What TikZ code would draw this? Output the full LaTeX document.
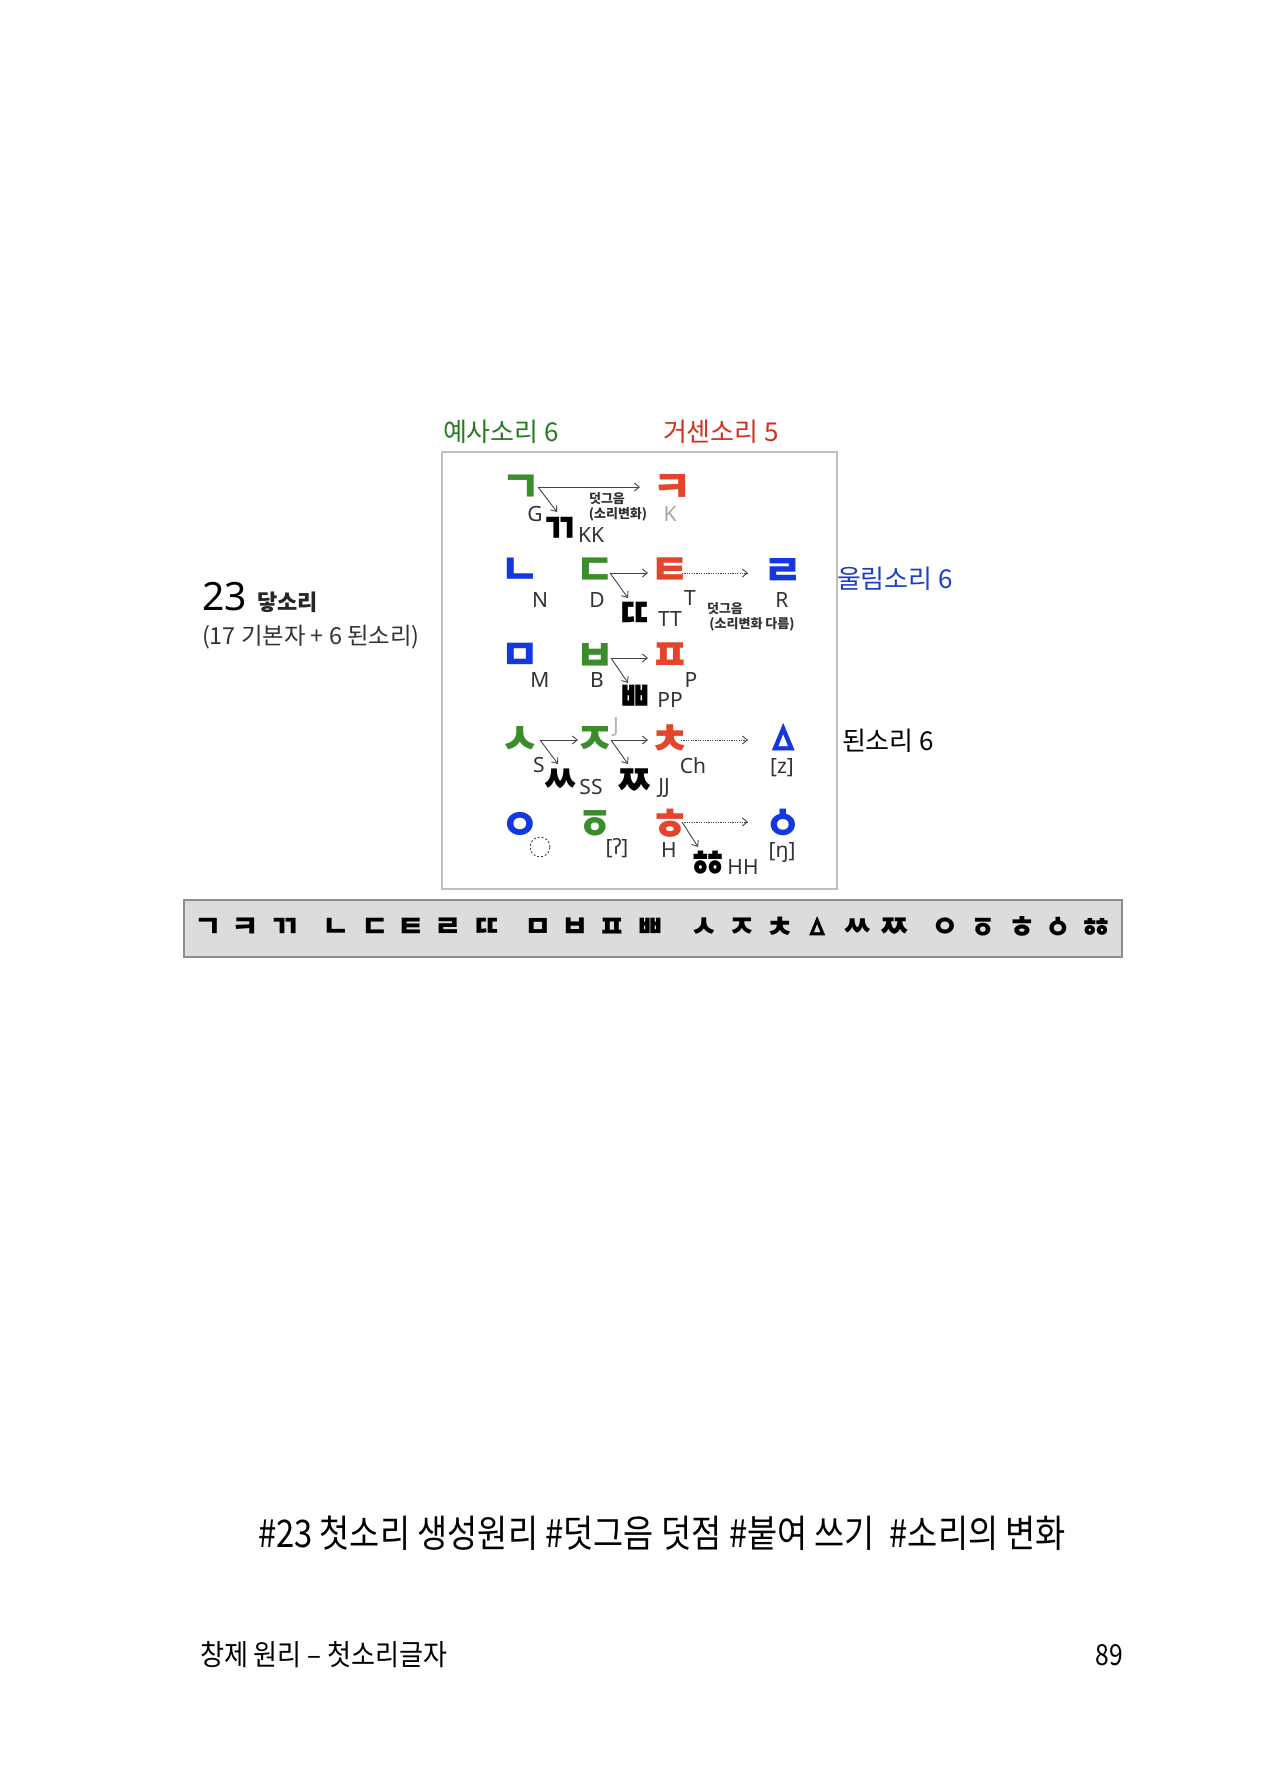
\documentclass[tikz,border=0pt]{standalone}
\usepackage{fontspec}
\setmainfont{Noto Sans}
\newfontfamily\kr{Noto Sans CJK KR}
\newfontfamily\krfb{Noto Sans CJK KR}[FakeBold=2]
\newfontfamily\lat{Noto Sans}
\usetikzlibrary{arrows.meta}
\definecolor{jgreen}{HTML}{3B8C2A}
\definecolor{jred}{HTML}{E2452B}
\definecolor{jblue}{HTML}{1438E0}
\definecolor{lgreen}{HTML}{2A7A22}
\definecolor{lred}{HTML}{D0321F}
\definecolor{lblue}{HTML}{1C3FC4}
\definecolor{txtgray}{HTML}{333333}
\definecolor{arrgray}{HTML}{444444}
\definecolor{barfill}{HTML}{DCDCDC}
\begin{document}
\begin{tikzpicture}[x=0.5pt,y=-0.5pt,
  every node/.style={inner sep=0pt, outer sep=0pt},
  jm/.style={font=\kr\bfseries\fontsize{21.5}{21.5}\selectfont},
  dbl/.style={font=\kr\bfseries\fontsize{20.5}{20.5}\selectfont, xscale=0.88, text=black},
  tri/.style={font=\krfb\fontsize{23}{23}\selectfont},
  bj/.style={font=\kr\bfseries\fontsize{15}{15}\selectfont},
  btri/.style={font=\krfb\fontsize{16}{16}\selectfont},
  lb/.style={font=\lat\fontsize{10.5}{10.5}\selectfont, text=txtgray},
  note/.style={font=\kr\bfseries\fontsize{6.5}{7}\selectfont, text=txtgray},
  hdr/.style={font=\kr\fontsize{13}{13}\selectfont, anchor=west},
  arr/.style={draw=arrgray, line width=0.45pt, -{Straight Barb[length=2.5pt,width=4pt]}},
  darr/.style={arr, dash pattern=on 0.6pt off 0.6pt}
]
\useasboundingbox (0,0) rectangle (1280,1791);

% frame and headers
\draw[draw=black!25, line width=0.8pt] (442,452) rectangle (837,889);
\node[hdr, text=lgreen] (hA) at (443,432) {예사소리 6};
\node[hdr, text=lred] (hB) at (663,432) {거센소리 5};
\node[hdr, text=lblue] (hC) at (837,579) {울림소리 6};
\node[hdr, text=black] (hD) at (842,741) {된소리 6};

% left legend
\node[anchor=base west, font=\lat\fontsize{19.5}{20}\selectfont, text=black] (n23) at (202,610) {23};
\node[anchor=base west, font=\kr\bfseries\fontsize{11}{11}\selectfont, text=black!85] (dk) at (257,610) {닿소리};
\node[anchor=west, font=\kr\fontsize{11.7}{12}\selectfont, text=txtgray] (sub) at (202,637) {(17 기본자 + 6 된소리)};

% row 1
\node[jm, text=jgreen] (g1) at (521,489) {ㄱ};
\node[jm, text=jred] (k1) at (672,489) {ㅋ};
\node[dbl] (gg1) at (560,530) {ㄲ};
\node[lb] (lG) at (535,514) {G};
\node[lb] (lKK) at (591,535) {KK};
\node[lb, text=black!35] (lK) at (670,514) {K};
\node[note] (n1a) at (607,499) {덧그음};
\node[note] (n1b) at (618,514) {(소리변화)};
\coordinate (s1) at (538,487);
\coordinate (e1a) at (640,487);
\coordinate (e1b) at (557,512);
\draw[arr] (s1) -- (e1a);
\draw[arr] (s1) -- (e1b);

% row 2
\node[jm, text=jblue] (n2) at (520,572) {ㄴ};
\node[jm, text=jgreen] (d2) at (595,572) {ㄷ};
\node[jm, text=jred] (t2) at (670,572) {ㅌ};
\node[jm, text=jblue] (r2) at (783,572) {ㄹ};
\node[dbl] (dd2) at (635,615) {ㄸ};
\node[lb] (lN) at (540,600) {N};
\node[lb] (lD) at (597,600) {D};
\node[lb] (lTT) at (670,619) {TT};
\node[lb] (lT) at (690,598) {T};
\node[lb] (lR) at (782,600) {R};
\node[note] (n2a) at (725,609) {덧그음};
\node[note] (n2b) at (752,624) {(소리변화 다름)};
\coordinate (s2) at (610,573);
\coordinate (e2a) at (648,573);
\coordinate (e2b) at (628,598);
\coordinate (s2d) at (682,573);
\coordinate (e2d) at (748,573);
\draw[arr] (s2) -- (e2a);
\draw[arr] (s2) -- (e2b);
\draw[darr] (s2d) -- (e2d);

% row 3
\node[jm, text=jblue] (m3) at (520,657) {ㅁ};
\node[jm, text=jgreen] (b3) at (595,657) {ㅂ};
\node[jm, text=jred] (p3) at (670,657) {ㅍ};
\node[dbl] (bb3) at (635,698) {ㅃ};
\node[lb] (lM) at (540,680) {M};
\node[lb] (lB) at (597,680) {B};
\node[lb] (lPP) at (670,700) {PP};
\node[lb] (lP) at (691,680) {P};
\coordinate (s3) at (611,658);
\coordinate (e3a) at (648,658);
\coordinate (e3b) at (628,683);
\draw[arr] (s3) -- (e3a);
\draw[arr] (s3) -- (e3b);

% row 4
\node[jm, text=jgreen] (s4) at (520,740) {ㅅ};
\node[jm, text=jgreen] (j4) at (595,740) {ㅈ};
\node[jm, text=jred] (c4) at (670,740) {ㅊ};
\node[tri, text=jblue] (z4) at (783,740) {ㅿ};
\node[dbl] (ss4) at (560,782) {ㅆ};
\node[dbl] (jj4) at (634,782) {ㅉ};
\node[lb, text=black!30] (lJ) at (616,727) {J};
\node[lb] (lS) at (539,765) {S};
\node[lb] (lSS) at (591,787) {SS};
\node[lb] (lJJ) at (664,788) {JJ};
\node[lb] (lCh) at (693,766) {Ch};
\node[lb] (lz) at (782,768) {[z]};
\coordinate (s4a) at (540,740);
\coordinate (e4a) at (578,740);
\coordinate (e4b) at (558,764);
\coordinate (s4b) at (611,740);
\coordinate (e4c) at (648,740);
\coordinate (e4d) at (628,764);
\coordinate (s4c) at (681,740);
\coordinate (e4e) at (748,740);
\draw[arr] (s4a) -- (e4a);
\draw[arr] (s4a) -- (e4b);
\draw[arr] (s4b) -- (e4c);
\draw[arr] (s4b) -- (e4d);
\draw[darr] (s4c) -- (e4e);

% row 5
\node[jm, text=jblue] (o5) at (520,826) {ㅇ};
\node[jm, text=jgreen] (q5) at (595,825) {ㆆ};
\node[jm, text=jred] (h5) at (670,825) {ㅎ};
\node[jm, text=jblue] (ng5) at (783,824) {ㆁ};
\node[dbl] (hh5) at (708,865) {ㆅ};
\node[draw=txtgray, circle, dash pattern=on 1pt off 1pt, line width=0.4pt, minimum size=10pt] (dc) at (540,847) {};
\node[lb] (lq) at (617,848) {[ʔ]};
\node[lb] (lH) at (669,850) {H};
\node[lb] (lHH) at (743,867) {HH};
\node[lb] (lng) at (782,853) {[ŋ]};
\coordinate (s5) at (682,822);
\coordinate (e5a) at (698,847);
\coordinate (e5b) at (748,822);
\draw[arr] (s5) -- (e5a);
\draw[darr] (s5) -- (e5b);

% gray bar
\draw[fill=barfill, draw=black!45, line width=0.6pt] (184,900) rectangle (1122,957);
\foreach \ch/\xx in {ㄱ/208,ㅋ/245,ㄲ/285,ㄴ/336,ㄷ/375,ㅌ/411,ㄹ/448,ㄸ/487,ㅁ/538,ㅂ/575,ㅍ/612,ㅃ/650,ㅅ/704,ㅈ/742,ㅊ/780,ㅆ/857,ㅉ/894,ㅇ/945,ㆆ/983,ㅎ/1022,ㆁ/1058,ㆅ/1096}
  \node[bj] (b\xx) at (\xx,928) {\ch};
\node[btri] (b817) at (817,928) {ㅿ};

% bottom texts
\node[font=\kr\fontsize{19}{19}\selectfont, text=black, anchor=west] (title) at (258,1533) {\scalebox{0.862}[1]{\#23 첫소리 생성원리 \#덧그음 덧점 \#붙여 쓰기 ~\#소리의 변화}};
\node[font=\kr\fontsize{14.5}{15}\selectfont, text=black, anchor=west] (foot) at (200,1655) {\scalebox{0.9}[1]{창제 원리 – 첫소리글자}};
\node[font=\kr\fontsize{14.5}{15}\selectfont, text=black, anchor=east] (pg) at (1123,1655) {\scalebox{0.85}[1]{89}};
\end{tikzpicture}
\end{document}
